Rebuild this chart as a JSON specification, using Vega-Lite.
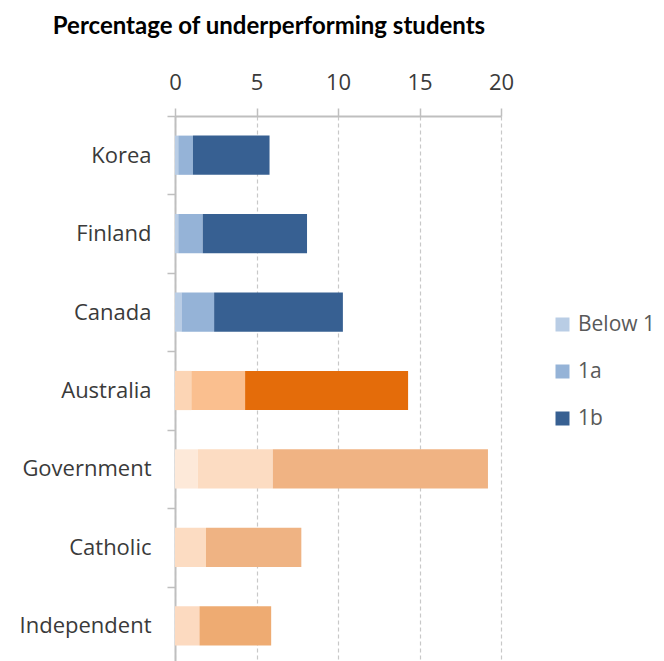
{
  "$schema": "https://vega.github.io/schema/vega-lite/v6.json",
  "width": 326,
  "height": 549,
  "autosize": "none",
  "padding": {"left": 175, "top": 116, "right": 163, "bottom": 0},
  "background": "white",
  "title": {
    "text": "Percentage of underperforming students",
    "font": "Lato",
    "fontSize": 24,
    "fontWeight": "bold",
    "color": "#000000",
    "anchor": "middle",
    "dx": -69,
    "offset": 32
  },
  "data": {
    "values": [
      {"country": "Korea", "level": "Below 1", "seg": 1, "key": "Korea|Below 1", "pct": 0.2},
      {"country": "Korea", "level": "1a", "seg": 2, "key": "Korea|1a", "pct": 0.9},
      {"country": "Korea", "level": "1b", "seg": 3, "key": "Korea|1b", "pct": 4.7},
      {"country": "Finland", "level": "Below 1", "seg": 1, "key": "Finland|Below 1", "pct": 0.2},
      {"country": "Finland", "level": "1a", "seg": 2, "key": "Finland|1a", "pct": 1.5},
      {"country": "Finland", "level": "1b", "seg": 3, "key": "Finland|1b", "pct": 6.4},
      {"country": "Canada", "level": "Below 1", "seg": 1, "key": "Canada|Below 1", "pct": 0.4},
      {"country": "Canada", "level": "1a", "seg": 2, "key": "Canada|1a", "pct": 2.0},
      {"country": "Canada", "level": "1b", "seg": 3, "key": "Canada|1b", "pct": 7.9},
      {"country": "Australia", "level": "Below 1", "seg": 1, "key": "Australia|Below 1", "pct": 1.0},
      {"country": "Australia", "level": "1a", "seg": 2, "key": "Australia|1a", "pct": 3.3},
      {"country": "Australia", "level": "1b", "seg": 3, "key": "Australia|1b", "pct": 10.0},
      {"country": "Government", "level": "Below 1", "seg": 1, "key": "Government|Below 1", "pct": 1.4},
      {"country": "Government", "level": "1a", "seg": 2, "key": "Government|1a", "pct": 4.6},
      {"country": "Government", "level": "1b", "seg": 3, "key": "Government|1b", "pct": 13.2},
      {"country": "Catholic", "level": "1a", "seg": 2, "key": "Catholic|1a", "pct": 1.9},
      {"country": "Catholic", "level": "1b", "seg": 3, "key": "Catholic|1b", "pct": 5.85},
      {"country": "Independent", "level": "1a", "seg": 2, "key": "Independent|1a", "pct": 1.5},
      {"country": "Independent", "level": "1b", "seg": 3, "key": "Independent|1b", "pct": 4.4}
    ]
  },
  "mark": {"type": "bar"},
  "encoding": {
    "y": {
      "field": "country",
      "type": "nominal",
      "sort": null,
      "scale": {"paddingInner": 0.5, "paddingOuter": 0.25},
      "axis": {
        "title": null,
        "tickOffset": -39.2,
        "labelOffset": 39.2,
        "labelFont": "Open Sans",
        "labelFontSize": 22,
        "labelColor": "#3a3a3a",
        "labelPadding": 16,
        "tickSize": 8,
        "tickColor": "#bfbfbf",
        "tickWidth": 1.5,
        "domainColor": "#bfbfbf",
        "domainWidth": 2,
        "grid": false
      }
    },
    "x": {
      "field": "pct",
      "type": "quantitative",
      "stack": "zero",
      "scale": {"domain": [0, 20], "nice": false},
      "axis": {
        "orient": "top",
        "title": null,
        "values": [0, 5, 10, 15, 20],
        "labelFlush": false,
        "labelFont": "Open Sans",
        "labelFontSize": 22,
        "labelColor": "#3a3a3a",
        "labelPadding": 14,
        "tickSize": 8,
        "tickColor": "#bfbfbf",
        "tickWidth": 1.5,
        "domainColor": "#bfbfbf",
        "domainWidth": 2,
        "grid": true,
        "gridColor": "#c8c8c8",
        "gridDash": [4, 3],
        "gridWidth": 1.2
      }
    },
    "order": {"field": "seg", "type": "quantitative"},
    "color": {
      "field": "key",
      "type": "nominal",
      "scale": {
        "domain": [
          "Korea|Below 1", "Korea|1a", "Korea|1b",
          "Finland|Below 1", "Finland|1a", "Finland|1b",
          "Canada|Below 1", "Canada|1a", "Canada|1b",
          "Australia|Below 1", "Australia|1a", "Australia|1b",
          "Government|Below 1", "Government|1a", "Government|1b",
          "Catholic|1a", "Catholic|1b",
          "Independent|1a", "Independent|1b"
        ],
        "range": [
          "#b9cde5", "#95b3d7", "#376092",
          "#b9cde5", "#95b3d7", "#376092",
          "#b9cde5", "#95b3d7", "#376092",
          "#fcd5b5", "#fabf8f", "#e46c0a",
          "#fde9d9", "#fcdcc2", "#f0b383",
          "#fcdcc2", "#efb383",
          "#fcdac0", "#eeab72"
        ]
      },
      "legend": {
        "title": null,
        "values": ["Korea|Below 1", "Korea|1a", "Korea|1b"],
        "labelExpr": "split(datum.label, '|')[1]",
        "orient": "none",
        "legendX": 377,
        "legendY": 198,
        "direction": "vertical",
        "symbolType": "square",
        "symbolSize": 196,
        "symbolStrokeWidth": 0,
        "labelFont": "Open Sans",
        "labelFontSize": 21,
        "labelColor": "#595959",
        "labelOffset": 5,
        "rowPadding": 25
      }
    }
  },
  "config": {"view": {"stroke": null}}
}
